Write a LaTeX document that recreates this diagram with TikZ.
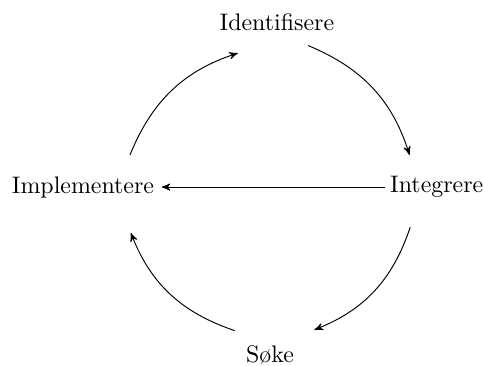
\documentclass[tikz,border=0pt]{standalone}
\usepackage{tikz}
\usetikzlibrary{arrows}

\begin{document}
\begin{tikzpicture}[>=stealth',shorten >=1pt,auto,
                    step node/.style={inner sep=2pt}]
  \useasboundingbox (0,0) rectangle (7.1,5.37);

  \node[step node] (ident) at (4.07,5.04) {Identifisere};
  \node[step node] (integ) at (6.42,2.62) {Integrere};
  \node[step node] (soke)  at (3.97,0.15) {S{\o}ke};
  \node[step node] (impl)  at (1.22,2.62) {Implementere};

  \path (ident.center) ++(0.46,-0.34) coordinate (a1)
        (integ.center) ++(-0.39,0.44) coordinate (a2)
        (integ.center) ++(-0.39,-0.59) coordinate (b1)
        (soke.center) ++(0.62,0.36) coordinate (b2)
        (soke.center) ++(-0.52,0.36) coordinate (c1)
        (impl.center) ++(0.69,-0.64) coordinate (c2)
        (impl.center) ++(0.69,0.47) coordinate (d1)
        (ident.center) ++(-0.54,-0.44) coordinate (d2);

  \draw[->] (a1) to[bend left=25] (a2);
  \draw[->] (b1) to[bend left=25] (b2);
  \draw[->] (c1) to[bend left=25] (c2);
  \draw[->] (d1) to[bend left=25] (d2);
  \draw[->] (integ) -- (impl);
\end{tikzpicture}
\end{document}
